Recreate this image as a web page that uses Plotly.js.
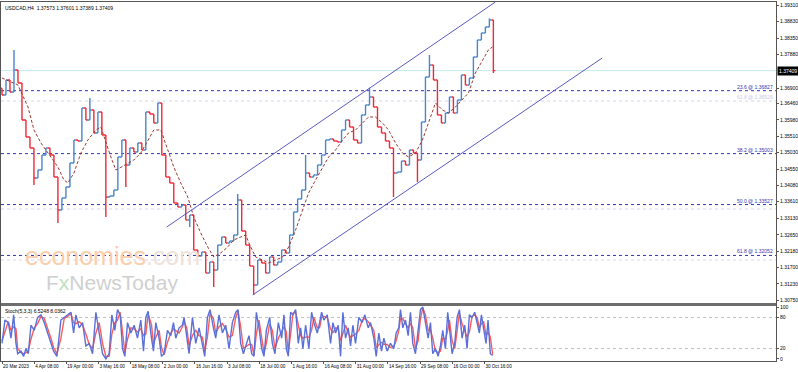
<!DOCTYPE html>
<html><head><meta charset="utf-8">
<script src="https://cdn.plot.ly/plotly-3.0.1.min.js"></script>
<style>html,body{margin:0;padding:0;background:#fff}#c{width:798px;height:372px}</style>
</head><body><div id="c"></div>
<script>
// ---------- data ----------
const firstOpen = 1.36900;
const closes = [1.36702,1.37137,1.36789,1.37426,1.37050,1.35977,1.35485,1.35166,1.34297,1.34528,
1.34963,1.35166,1.34963,1.34326,1.33369,1.33717,1.34036,1.34731,1.35398,1.35369,
1.36325,1.35977,1.36267,1.35601,1.36209,1.35543,1.33746,1.33775,1.33949,1.34905,
1.35398,1.34673,1.35166,1.35050,1.35311,1.35108,1.36209,1.36150,1.35890,1.36470,
1.34963,1.34326,1.34152,1.33572,1.33456,1.33514,1.33079,1.33224,1.32210,1.32036,
1.32152,1.31543,1.31862,1.31630,1.32355,1.32587,1.32413,1.32471,1.32645,1.33659,
1.32761,1.32355,1.31746,1.31196,1.31920,1.31833,1.31543,1.32007,1.31775,1.31862,
1.32210,1.32123,1.32645,1.33311,1.33688,1.33949,1.34441,1.34326,1.34384,1.34673,
1.34963,1.35398,1.35427,1.35369,1.35340,1.35688,1.35977,1.35774,1.35398,1.35311,
1.36122,1.36412,1.36644,1.36354,1.35774,1.35601,1.35369,1.35166,1.34441,1.34470,
1.34789,1.34673,1.35108,1.35021,1.34818,1.35919,1.37224,1.37571,1.37137,1.36122,
1.35890,1.36180,1.36644,1.36180,1.36557,1.37282,1.36992,1.37195,1.37803,1.38296,
1.38499,1.38673,1.38875,1.37409];
const wickHighs = [[3,1.38006],[22,1.36615],[59,1.33833],[76,1.34963],[92,1.36905],[107,1.37861],[122,1.38920]];
const wickLows = [[8,1.34094],[14,1.32993],[26,1.33166],[31,1.34036],[47,1.32877],[53,1.31138],[63,1.30906],[98,1.33746],[104,1.34181],[123,1.37340]];

const maX = [0,4,6.5,8,9.75,12.25,14,15.5,16.5,18,19.75,21.5,23.5,24.75,26,27.25,28.5,29.75,31.5,33,34.75,36.5,38,39.75,41.5,43,44.75,46.5,48,49.75,51.5,53,54.75,56.5,58,59.75,61,62.25,63.5,65.25,66.75,68.5,70.25,71.75,73.5,75.25,76.75,78.5,80.25,81.75,83.5,85.25,86.75,88.5,90.25,91.75,93.5,95.25,96.75,98.5,100.25,101.75,103.5,105.25,106.75,108.5,110.25,111.75,113.5,115.25,116.75,118.5,120.25,121.75,122.75];
const maP = [1.37195,1.36992,1.36354,1.35688,1.35311,1.34905,1.34615,1.34239,1.34152,1.34441,1.35021,1.35398,1.35688,1.35774,1.35311,1.34905,1.34528,1.34615,1.34731,1.34818,1.35021,1.35398,1.35688,1.35688,1.35108,1.34615,1.34152,1.33746,1.33166,1.32703,1.32297,1.32007,1.32123,1.32297,1.32500,1.32587,1.32645,1.32297,1.32007,1.31920,1.31833,1.31920,1.32007,1.32297,1.32790,1.33369,1.33862,1.34239,1.34615,1.34905,1.35108,1.35398,1.35601,1.35688,1.35890,1.36064,1.36064,1.35890,1.35688,1.35311,1.35021,1.34905,1.35021,1.35398,1.35890,1.36470,1.36267,1.36180,1.36354,1.36557,1.36760,1.37339,1.37716,1.38006,1.38093];

const stochX = [0,0.75,1.58,2.25,2.92,3.5,3.92,4.75,5.42,6,6.58,7.25,8.08,8.92,9.75,10.58,11.42,12.25,12.92,13.75,14.75,15.58,16.42,17.25,17.92,18.5,19.33,20.17,21,21.83,22.67,23.5,24.33,25.17,26,26.83,27.5,28.25,28.92,29.58,30.17,30.75,31.42,32.25,33.08,33.92,34.75,35.42,36,36.58,37.42,37.92,38.5,39.33,39.92,40.58,41.42,42.25,42.92,43.5,44.33,45.17,45.58,46.25,46.83,47.67,48.5,49.33,50.17,50.75,51.42,52.08,52.92,53.5,54.33,55.17,56,56.83,57.67,58.5,59.08,59.75,60.42,
61.83,62.5,63.08,63.67,64.33,65,65.58,66.17,67,67.67,68.33,69.17,70,70.58,71.17,71.67,72.25,72.83,73.5,74.17,74.75,75.33,76,76.83,77.5,78.08,78.92,79.5,80,80.58,81.42,82.25,82.83,83.5,84.17,84.75,85.33,86,86.67,87.25,87.83,88.5,89.33,90.17,90.83,91.67,92.25,93.08,93.67,94.33,95,95.58,96.42,97.25,98.08,98.67,99.33,99.75,100.33,101,101.67,102.25,102.83,103.5,104.17,104.75,105.33,106,106.67,107.25,107.83,108.5,109.17,109.75,110.33,111,111.58,112,112.67,113.33,113.92,114.5,115.17,115.83,116.42,117,117.67,118.33,118.92,119.5,120,120.58,121.17,121.67,122.25,122.83];
const stochMain = [30,75,70,40,85,30,10,15,5,20,10,65,55,80,85,70,50,30,15,5,75,80,85,90,50,85,60,70,25,30,10,90,50,10,0,10,85,55,95,85,20,5,70,50,65,40,75,15,80,92,40,15,70,40,5,10,55,45,70,40,60,65,80,40,10,80,30,60,25,5,80,95,60,40,85,50,65,20,70,90,95,30,10,
45,10,5,90,60,20,5,55,80,30,10,70,40,85,20,5,90,85,95,30,60,20,65,20,90,70,50,70,90,75,85,30,70,50,65,5,90,40,60,25,65,30,80,70,85,60,70,40,5,50,15,40,15,30,20,50,60,95,60,75,45,90,30,10,60,95,100,70,40,70,10,20,5,25,55,20,90,60,10,30,80,95,40,65,20,85,80,90,70,50,85,60,30,75,10,6.52];
const stochSignal = [35,52,72,55,62,58,20,12,10,12,15,38,60,68,82,78,60,40,22,10,40,78,82,88,70,68,72,65,48,28,20,50,70,30,5,5,48,70,75,90,52,12,38,60,58,52,58,45,48,86,66,28,42,55,22,8,32,50,58,55,50,62,72,60,25,45,55,45,42,15,42,88,78,50,62,68,58,42,45,80,92,62,20,
28,28,8,48,75,40,12,30,68,55,20,40,55,62,52,12,48,88,90,62,45,40,42,42,55,80,60,60,80,82,80,58,50,60,58,35,48,65,50,42,45,48,55,75,78,72,65,55,22,28,32,28,28,22,25,35,55,78,78,68,60,68,60,20,35,78,98,85,55,55,40,15,12,15,40,38,55,75,35,20,55,88,68,52,42,52,82,85,80,60,68,72,45,52,42,8.04];

const fibLevels = [1.36827, 1.35003, 1.33527, 1.32052];
const fibLabels = ["23.6 @ 1.36827", "38.2 @ 1.35003", "50.0 @ 1.33527", "61.8 @ 1.32052"];
const fibFaint = [1.36526, 1.33398, 1.31920];
const fibFaintLabel = "61.8 @ 1.36526";
const lastPrice = 1.37409;
const channelUpperX = [41.25, 123.5], channelUpperP = [1.32877, 1.39397];
const channelLowerX = [62.75, 150.25], channelLowerP = [1.30906, 1.37774];

const priceTicks = [1.39310,1.38830,1.38350,1.37880,1.36900,1.36460,1.35980,1.35510,1.35030,1.34550,1.34080,1.33610,1.33130,1.32650,1.32180,1.31700,1.31230,1.30750];
const dateTickPos = [0,8.05,16.1,24.15,32.2,40.25,48.3,56.35,64.4,72.45,80.5,88.55,96.6,104.65,112.7,120.75];
const dateTickText = ["20 Mar 2023","4 Apr 08:00","19 Apr 00:00","3 May 16:00","18 May 08:00","2 Jun 00:00","16 Jun 16:00","3 Jul 08:00","18 Jul 00:00","1 Aug 16:00","16 Aug 08:00","31 Aug 00:00","14 Sep 16:00","29 Sep 08:00","16 Oct 00:00","30 Oct 16:00"];
const stochTicks = [100, 80, 20, 0];
const stochLevels = [80, 20];

// ---------- build ----------
const xIdx = closes.map((_, i) => i);
const opens = closes.map((c, i) => i === 0 ? firstOpen : closes[i - 1]);
const highs = closes.map((c, i) => Math.max(c, opens[i]));
const lows = closes.map((c, i) => Math.min(c, opens[i]));
wickHighs.forEach(([i, v]) => { highs[i] = Math.max(highs[i], v); });
wickLows.forEach(([i, v]) => { lows[i] = Math.min(lows[i], v); });

const FONT = '"Liberation Sans", Arial, sans-serif';
const traces = [
  {type:'ohlc', x:xIdx, open:opens, high:highs, low:lows, close:closes, xaxis:'x', yaxis:'y',
   increasing:{line:{color:'#4a86cc', width:1.4}},
   decreasing:{line:{color:'#ee2a36', width:1.4}},
   tickwidth:0.5, hoverinfo:'skip', showlegend:false},
  {type:'scatter', mode:'lines', x:maX, y:maP, xaxis:'x', yaxis:'y',
   line:{color:'#9a3a34', width:1, dash:'3px,2px'}, hoverinfo:'skip', showlegend:false},
  {type:'scatter', mode:'lines', x:channelUpperX, y:channelUpperP, xaxis:'x', yaxis:'y',
   line:{color:'#5a5ac4', width:1}, hoverinfo:'skip', showlegend:false},
  {type:'scatter', mode:'lines', x:channelLowerX, y:channelLowerP, xaxis:'x', yaxis:'y',
   line:{color:'#5a5ac4', width:1}, hoverinfo:'skip', showlegend:false},
  {type:'scatter', mode:'lines', x:stochX, y:stochSignal, xaxis:'x2', yaxis:'y2',
   line:{color:'#ff5a5a', width:1.4}, hoverinfo:'skip', showlegend:false},
  {type:'scatter', mode:'lines', x:stochX, y:stochMain, xaxis:'x2', yaxis:'y2',
   line:{color:'#5a70d8', width:1.4}, hoverinfo:'skip', showlegend:false}
];

const shapes = [];
shapes.push({type:'line', xref:'paper', yref:'y', x0:0, x1:1, y0:lastPrice, y1:lastPrice, line:{color:'#c4eaee', width:1}, layer:'below'});
fibFaint.forEach(v => shapes.push({type:'line', xref:'paper', yref:'y', x0:0, x1:1, y0:v, y1:v, line:{color:'#d6d6ee', width:1, dash:'dot'}, layer:'below'}));
fibLevels.forEach(v => shapes.push({type:'line', xref:'paper', yref:'y', x0:0, x1:1, y0:v, y1:v, line:{color:'#3434b0', width:1, dash:'dot'}, layer:'below'}));
stochLevels.forEach(v => shapes.push({type:'line', xref:'paper', yref:'y2', x0:0, x1:1, y0:v, y1:v, line:{color:'#c0c0c0', width:1, dash:'dot'}, layer:'below'}));
shapes.push({type:'line', xref:'paper', yref:'paper', x0:0, x1:1, y0:0.1574, y1:0.1574, line:{color:'#6e6e6e', width:3}});

const annotations = [];
fibLevels.forEach((v, i) => annotations.push({xref:'paper', yref:'y', x:1, y:v, xanchor:'right', yanchor:'bottom', xshift:-1, yshift:-1,
  text:fibLabels[i], showarrow:false, font:{family:FONT, size:5, color:'#3434b0'}}));
annotations.push({xref:'paper', yref:'y', x:1, y:fibFaint[0], xanchor:'right', yanchor:'bottom', xshift:-1, yshift:-1,
  text:fibFaintLabel, showarrow:false, font:{family:FONT, size:5, color:'#c8c8e6'}});
annotations.push({xref:'paper', yref:'y', x:1, y:lastPrice, xanchor:'left', yanchor:'middle', xshift:1,
  text:lastPrice.toFixed(5), showarrow:false, bgcolor:'#000', borderpad:1, font:{family:FONT, size:5, color:'#fff'}});
annotations.push({xref:'paper', yref:'paper', x:0.003, y:0.997, xanchor:'left', yanchor:'top',
  text:'USDCAD,H4  1.37573 1.37601 1.37389 1.37409', showarrow:false, font:{family:FONT, size:5, color:'#000'}});
annotations.push({xref:'paper', yref:'paper', x:0.003, y:0.153, xanchor:'left', yanchor:'top',
  text:'Stoch(5,3,3) 6.5248 8.0362', showarrow:false, font:{family:FONT, size:5, color:'#000'}});
annotations.push({xref:'paper', yref:'paper', x:0.029, y:0.292, xanchor:'left', yanchor:'middle',
  text:'<span style="color:#fccdab">economies</span><span style="color:#efe2da">.com</span>', showarrow:false,
  font:{family:FONT, size:25, color:'#fccdab'}});
annotations.push({xref:'paper', yref:'paper', x:0.055, y:0.218, xanchor:'left', yanchor:'middle',
  text:'F<span style="color:#bfe0bf">x</span>NewsToday', showarrow:false,
  font:{family:FONT, size:21, color:'#cfcfcf'}});

const axLine = '#555555';
const layout = {
  width:798, height:372, margin:{l:1, r:22, t:2, b:11},
  paper_bgcolor:'#ffffff', plot_bgcolor:'#ffffff', showlegend:false,
  font:{family:FONT, size:5, color:'#000'},
  xaxis:{domain:[0,1], anchor:'y', range:[-0.25,193.75], showticklabels:false, showgrid:false, zeroline:false,
    showline:true, mirror:true, linecolor:axLine, linewidth:1, ticks:'', rangeslider:{visible:false}, fixedrange:true},
  xaxis2:{domain:[0,1], anchor:'y2', matches:'x', range:[-0.25,193.75], showgrid:false, zeroline:false,
    showline:true, mirror:true, linecolor:axLine, linewidth:1, tickmode:'array', tickvals:dateTickPos, ticktext:dateTickText,
    tickangle:0, ticks:'outside', ticklen:2, tickcolor:axLine, ticklabelposition:'outside right', tickfont:{family:FONT, size:4.6}},
  yaxis:{domain:[0.1588,1], anchor:'x', side:'right', range:[1.30645,1.39397], showgrid:false, zeroline:false,
    showline:true, mirror:true, linecolor:axLine, linewidth:1, tickmode:'array', tickvals:priceTicks,
    ticktext:priceTicks.map(v => v.toFixed(5)), ticks:'outside', ticklen:2, tickcolor:axLine, tickfont:{family:FONT, size:5}},
  yaxis2:{domain:[0,0.156], anchor:'x2', side:'right', range:[-4,104], showgrid:false, zeroline:false,
    showline:true, mirror:true, linecolor:axLine, linewidth:1, tickmode:'array', tickvals:stochTicks,
    ticktext:stochTicks.map(String), ticks:'outside', ticklen:2, tickcolor:axLine, tickfont:{family:FONT, size:5}},
  shapes:shapes, annotations:annotations
};
Plotly.newPlot('c', traces, layout, {displayModeBar:false, staticPlot:true});
</script></body></html>
